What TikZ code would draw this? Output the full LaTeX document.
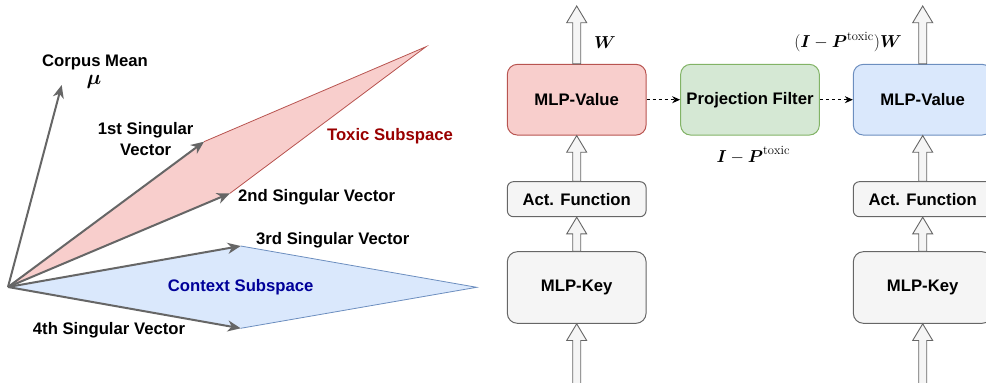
\documentclass[tikz,border=0pt]{standalone}
\usepackage{amsmath}
\usepackage{fontspec}
\usetikzlibrary{arrows.meta,calc}
\newfontfamily\arialfont{Liberation Sans}
\definecolor{vgray}{HTML}{666666}
\definecolor{redfill}{HTML}{F8CECC}
\definecolor{redline}{HTML}{B85450}
\definecolor{greenfill}{HTML}{D5E8D4}
\definecolor{greenline}{HTML}{82B366}
\definecolor{bluefill}{HTML}{DAE8FC}
\definecolor{blueline}{HTML}{6C8EBF}
\definecolor{greyfill}{HTML}{F5F5F5}
\definecolor{toxred}{HTML}{990000}
\definecolor{ctxblue}{HTML}{000099}
\tikzset{
  lbl/.style={font=\arialfont\bfseries\fontsize{16.7}{19}\selectfont, inner sep=0pt, align=center},
  mlbl/.style={font=\fontsize{18}{21}\selectfont, inner sep=0pt},
  vec/.style={draw=vgray, line width=2pt, -{Stealth[length=13pt,width=11pt,inset=4pt]}},
  bigbox/.style={lbl, draw, line width=1pt, rounded corners=10pt, minimum width=138.7pt, minimum height=70.7pt},
  smallbox/.style={lbl, draw=vgray, fill=greyfill, line width=1pt, rounded corners=6pt, minimum width=138.7pt, minimum height=35pt},
  barrowstyle/.style={draw=vgray, fill=greyfill, line width=0.9pt, line join=miter},
  dasharrow/.style={draw=black, line width=1pt, dashed, dash pattern=on 3pt off 3pt, -{Stealth[length=8pt,width=7pt]}}
}
\newcommand{\blockarrow}[2]{%
  \path[barrowstyle] let \p1=(#1), \p2=(#2) in
    (\x1-4pt,\y1) -- (\x1-4pt,\y2-16.7pt) -- (\x1-10pt,\y2-16.7pt) -- (\x1,\y2)
    -- (\x1+10pt,\y2-16.7pt) -- (\x1+4pt,\y2-16.7pt) -- (\x1+4pt,\y1) -- cycle;}
\begin{document}
\begin{tikzpicture}[x=1pt, y=-1pt]
\useasboundingbox (0,0) rectangle (986,383);
\clip (0,0) rectangle (986,383);
% ---------- left: subspaces ----------
\coordinate (O) at (8,287);
\coordinate (mu) at (61.7,85);
\coordinate (v1) at (204,141.7);
\coordinate (tt) at (426,46.7);
\coordinate (v2) at (230,193.3);
\coordinate (v3) at (240.7,246);
\coordinate (cr) at (476.7,287.3);
\coordinate (v4) at (240.7,328.3);
\fill[redfill] (O) -- (v1) -- (tt) -- (v2) -- cycle;
\draw[redline, line width=0.8pt] (v1) -- (tt) -- (v2);
\fill[bluefill] (O) -- (v3) -- (cr) -- (v4) -- cycle;
\draw[blueline, line width=0.8pt] (v3) -- (cr) -- (v4);
\draw[vec] (O) -- (mu);
\draw[vec] (O) -- (v1);
\draw[vec] (O) -- (v2);
\draw[vec] (O) -- (v3);
\draw[vec] (O) -- (v4);
\node[lbl] (cm) at (95,62) {Corpus Mean};
\node[mlbl, font=\fontsize{21}{24}\selectfont] (mut) at (94,82) {$\boldsymbol{\mu}$};
\node[lbl] (l1) at (145.7,139.5) {1st Singular\\[2pt]Vector};
\node[lbl, anchor=west] (l2) at (238,197.3) {2nd Singular Vector};
\node[lbl, anchor=west] (l3) at (256,240.7) {3rd Singular Vector};
\node[lbl] (l4) at (109,330) {4th Singular Vector};
\node[lbl, text=toxred] (tox) at (390,136) {Toxic Subspace};
\node[lbl, text=ctxblue] (ctx) at (240.7,287.3) {Context Subspace};
% ---------- right: MLP ----------
\node[bigbox, draw=redline, fill=redfill] (val1) at (576.7,99.7) {MLP-Value};
\node[bigbox, draw=greenline, fill=greenfill] (pf) at (750,99.7) {Projection Filter};
\node[bigbox, draw=blueline, fill=bluefill] (val2) at (922.7,99.7) {MLP-Value};
\node[smallbox] (act1) at (576.7,199.2) {Act. Function};
\node[smallbox] (act2) at (922.7,199.2) {Act. Function};
\node[bigbox, draw=vgray, fill=greyfill, minimum height=71.6pt] (key1) at (576.7,287.5) {MLP-Key};
\node[bigbox, draw=vgray, fill=greyfill, minimum height=71.6pt] (key2) at (922.7,287.5) {MLP-Key};
\coordinate (top1) at (576.7,6);
\coordinate (top2) at (922.7,6);
\coordinate (bot1) at (576.7,384);
\coordinate (bot2) at (922.7,384);
\blockarrow{val1.north}{top1}
\blockarrow{act1.north}{val1.south}
\blockarrow{key1.north}{act1.south}
\blockarrow{bot1}{key1.south}
\blockarrow{val2.north}{top2}
\blockarrow{act2.north}{val2.south}
\blockarrow{key2.north}{act2.south}
\blockarrow{bot2}{key2.south}
\draw[dasharrow] (val1.east) -- (pf.west);
\draw[dasharrow] (pf.east) -- (val2.west);
\node[mlbl] (wl) at (605,42.3) {$\boldsymbol{W}$};
\node[mlbl] (iw) at (848,42.3) {$(\boldsymbol{I}-\boldsymbol{P}^{\mathrm{toxic}})\boldsymbol{W}$};
\node[mlbl] (ip) at (753.3,155) {$\boldsymbol{I}-\boldsymbol{P}^{\mathrm{toxic}}$};
\end{tikzpicture}
\end{document}
